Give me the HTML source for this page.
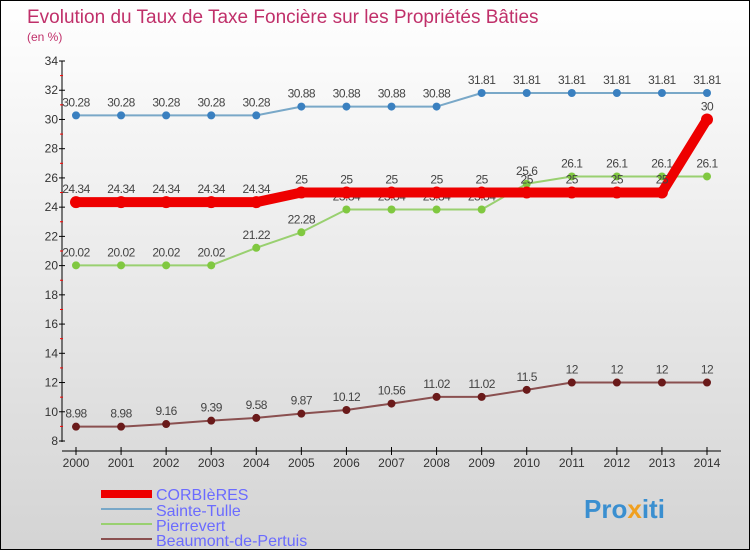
<!DOCTYPE html>
<html><head><meta charset="utf-8"><style>
body{margin:0}
#c{width:750px;height:550px;position:relative;box-sizing:border-box;border:1px solid #000;background:linear-gradient(#ffffff,#d4d4d4);font-family:"Liberation Sans",sans-serif;overflow:hidden}
</style></head><body>
<div id="c">
<svg id="s" width="750" height="550" style="position:absolute;left:0;top:0">
<text x="26" y="22" font-size="19" fill="#c0306a">Evolution du Taux de Taxe Foncière sur les Propriétés Bâties</text>
<text x="26" y="40" font-size="12" fill="#c0306a">(en %)</text>
<g id="axes"></g><g id="series"></g>
<g>
<rect x="100" y="489" width="51" height="8" fill="#ee0000"/>
<text x="155" y="499" font-size="16" fill="#6b6bff">CORBIèRES</text>
<rect x="100" y="507" width="51" height="2" fill="#79a8c8"/>
<text x="155" y="515" font-size="16" fill="#6b6bff">Sainte-Tulle</text>
<rect x="100" y="522" width="51" height="2" fill="#99d070"/>
<text x="155" y="530" font-size="16" fill="#6b6bff">Pierrevert</text>
<rect x="100" y="537" width="51" height="2" fill="#8a5050"/>
<text x="155" y="545" font-size="16" fill="#6b6bff">Beaumont-de-Pertuis</text>
</g>
<text x="583" y="517" font-size="26" font-weight="bold" fill="#3a8fd0">Pro<tspan fill="#f0a020">x</tspan>iti</text>
</svg>
</div>
<script>
const years=[2000,2001,2002,2003,2004,2005,2006,2007,2008,2009,2010,2011,2012,2013,2014];
const corbieres=[24.34,24.34,24.34,24.34,24.34,25,25,25,25,25,25,25,25,25,30];
const sainteTulle=[30.28,30.28,30.28,30.28,30.28,30.88,30.88,30.88,30.88,31.81,31.81,31.81,31.81,31.81,31.81];
const pierrevert=[20.02,20.02,20.02,20.02,21.22,22.28,23.84,23.84,23.84,23.84,25.6,26.1,26.1,26.1,26.1];
const beaumont=[8.98,8.98,9.16,9.39,9.58,9.87,10.12,10.56,11.02,11.02,11.5,12,12,12,12];
const yTicks=[8,10,12,14,16,18,20,22,24,26,28,30,32,34];
const NS="http://www.w3.org/2000/svg";
const X=i=>75+i*(631/14);
const Y=v=>440-(v-8)*(380/26);
function mk(t,a,p){const e=document.createElementNS(NS,t);for(const k in a)e.setAttribute(k,a[k]);p.appendChild(e);return e;}
const ax=document.getElementById('axes'),sg=document.getElementById('series');
let l=mk('line',{x1:61,y1:60,x2:61,y2:441,stroke:'#000','stroke-width':1},ax);

l=mk('line',{x1:61,y1:450,x2:720,y2:450,stroke:'#000','stroke-width':1},ax);

yTicks.forEach(v=>{
 const y=Y(v);
 mk('line',{x1:58,y1:y,x2:64,y2:y,stroke:'#000'},ax);
 if(v<34)mk('line',{x1:59,y1:Y(v+1),x2:62,y2:Y(v+1),stroke:'#f00'},ax);
 const t=mk('text',{x:57,y:y+4,'font-size':12,fill:'#333','text-anchor':'end'},ax);t.textContent=v;
 
});
years.forEach((yr,i)=>{
 const x=X(i);
 mk('line',{x1:x,y1:446,x2:x,y2:454,stroke:'#000'},ax);
 const t=mk('text',{x:x,y:466,'font-size':12,fill:'#333','text-anchor':'middle'},ax);t.textContent=yr;
 
});
function series(vals,name,color,lw,r,dot,labelColor){
 const g=mk('g',{},sg);
 
 const p=mk('polyline',{points:vals.map((v,i)=>X(i)+','+Y(v)).join(' '),fill:'none',stroke:color,'stroke-width':lw,'stroke-linejoin':'round'},g);
 
 vals.forEach((v,i)=>{
  const c=mk('circle',{cx:X(i),cy:Y(v),r:r,fill:dot},g);
  
  const t=mk('text',{x:X(i),y:Y(v)-9,'font-size':12,fill:'#444','text-anchor':'middle','letter-spacing':'-0.5'},g);t.textContent=v;
  
 });
}
series(sainteTulle,'sainte-tulle','#79a8c8',2,4,'#3a80c0');
series(pierrevert,'pierrevert','#99d070',2,4,'#80c840');
series(beaumont,'beaumont','#8a5050',2,4,'#6a1a1a');
series(corbieres,'corbieres','#ee0000',10,6,'#ee0000');
</script>
</body></html>
